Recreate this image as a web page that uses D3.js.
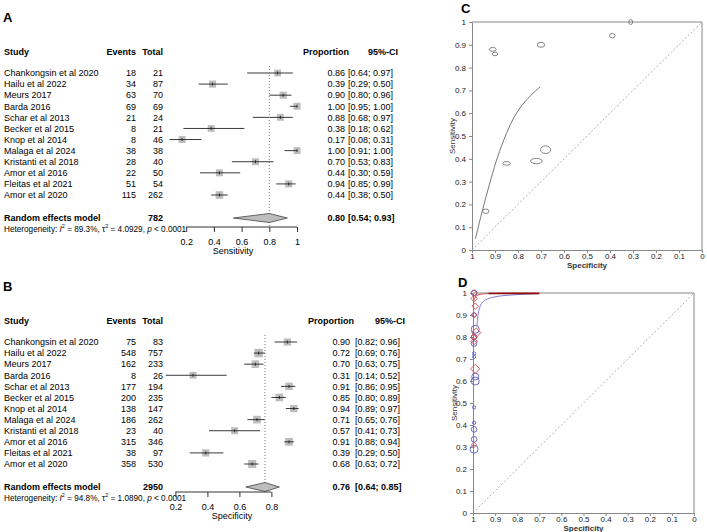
<!DOCTYPE html>
<html><head><meta charset="utf-8">
<script src="https://cdn.jsdelivr.net/npm/d3@7"></script>
<style>
body{margin:0;background:#fff}
svg{font-family:"Liberation Sans",Arial,sans-serif}
</style></head><body>
<svg id="fig" width="707" height="532"></svg>
<script>
var studies = ["Chankongsin et al 2020","Hailu et al 2022","Meurs 2017","Barda 2016","Schar et al 2013","Becker et al 2015","Knop et al 2014","Malaga et al 2024","Kristanti et al 2018","Amor et al 2016","Fleitas et al 2021","Amor et al 2020"]

// panel A, sensitivity
var sensEvents = [18,34,63,69,21,8,8,38,28,22,51,115]
var sensTotal  = [21,87,70,69,24,21,46,38,40,50,54,262]
var sensProp   = [0.86,0.39,0.90,1.00,0.88,0.38,0.17,1.00,0.70,0.44,0.94,0.44]
var sensLo     = [0.64,0.29,0.80,0.95,0.68,0.18,0.08,0.91,0.53,0.30,0.85,0.38]
var sensHi     = [0.97,0.50,0.96,1.00,0.97,0.62,0.31,1.00,0.83,0.59,0.99,0.50]
var sensPooled = [0.80,0.54,0.93]
var sensSum = 782
var sensHet = ["89.3%","4.0929","0.0001"]

// panel B, specificity
var specEvents = [75,548,162,8,177,200,138,186,23,315,38,358]
var specTotal  = [83,757,233,26,194,235,147,262,40,346,97,530]
var specProp   = [0.90,0.72,0.70,0.31,0.91,0.85,0.94,0.71,0.57,0.91,0.39,0.68]
var specLo     = [0.82,0.69,0.63,0.14,0.86,0.80,0.89,0.65,0.41,0.88,0.29,0.63]
var specHi     = [0.96,0.76,0.75,0.52,0.95,0.89,0.97,0.76,0.73,0.94,0.50,0.72]
var specPooled = [0.76,0.64,0.85]
var specSum = 2950
var specHet = ["94.8%","1.0890","0.0001"]

var forestTicksA = [0.2,0.4,0.6,0.8,1]
var forestTicksB = [0.2,0.4,0.6,0.8]

// panel C, studies shown in SROC space
var cStudies = ["Chankongsin et al 2020","Hailu et al 2022","Meurs 2017","Barda 2016","Schar et al 2013","Becker et al 2015","Knop et al 2014","Fleitas et al 2021","Amor et al 2020"]
var cCurveSpec = [0.985,0.955,0.925,0.896,0.865,0.835,0.80,0.75,0.704]
var cCurveSens = [0.05,0.175,0.285,0.39,0.475,0.55,0.615,0.675,0.715]

// panel D
var dBlueSpec = [0.995,0.995,0.99,0.995,0.995,0.995,0.995,0.99,0.99,0.995,0.995,0.995,0.995,0.995]
var dBlueSens = [1.00,0.90,0.835,0.80,0.77,0.725,0.71,0.62,0.60,0.48,0.41,0.38,0.335,0.29]
var dBlueN    = [60,40,120,60,60,20,20,90,120,20,20,60,60,120]
var dRedSpec  = [0.995,0.995,0.99,0.995,0.985,0.995,0.995,0.99,0.995]
var dRedSens  = [1.00,0.975,0.94,0.90,0.82,0.80,0.78,0.655,0.31]
var dRedN     = [60,60,60,40,120,60,60,120,40]
var dBlueCurveSpec = [0.982,0.978,0.972,0.962,0.945,0.91,0.86,0.78,0.70]
var dBlueCurveSens = [0.85,0.90,0.93,0.955,0.97,0.982,0.989,0.994,0.997]
var dRedCurveSpec  = [0.997,0.99,0.975,0.95,0.91,0.85,0.78,0.70]
var dRedCurveSens  = [0.965,0.985,0.993,0.997,0.999,1,1,1]

var rocTicks = d3.range(0, 11).map(d => d / 10)

var svg = d3.select('#fig')

function panelLabel(t, x, y){
  svg.append('text').text(t)
    .attr('x', x).attr('y', y)
    .attr('font-size', 13).attr('font-weight', 'bold')
}

function drawForest(o){
  var g = svg.append('g')
  var y = d3.scalePoint().domain(studies).range(o.rows)
  var x = d3.scaleLinear().domain([0, 1]).range(o.xr)
  var sz = d3.scaleSqrt().domain([0, 800]).range([6.5, 8.5])
  var fs = 9

  var hdr = g.append('g').attr('font-weight', 'bold').attr('font-size', fs)
  hdr.append('text').text('Study').attr('x', 4).attr('y', o.head)
  hdr.append('text').text('Events').attr('x', 136).attr('y', o.head).attr('text-anchor', 'end')
  hdr.append('text').text('Total').attr('x', 163).attr('y', o.head).attr('text-anchor', 'end')
  hdr.append('text').text('Proportion').attr('x', o.propX + 4).attr('y', o.head).attr('text-anchor', 'end')
  hdr.append('text').text('95%-CI').attr('x', o.ciX + 50).attr('y', o.head).attr('text-anchor', 'end')

  var rows = g.selectAll('g.row').data(studies).join('g').attr('font-size', fs)
  rows.append('text').text(d => d).attr('x', 4).attr('y', d => y(d) + 3.3)
  rows.append('text').text((d, i) => o.ev[i]).attr('x', 136).attr('y', d => y(d) + 3.3).attr('text-anchor', 'end')
  rows.append('text').text((d, i) => o.tot[i]).attr('x', 163).attr('y', d => y(d) + 3.3).attr('text-anchor', 'end')
  rows.append('text').text((d, i) => o.p[i].toFixed(2)).attr('x', o.propX).attr('y', d => y(d) + 3.3).attr('text-anchor', 'end')
  rows.append('text').text((d, i) => '[' + o.lo[i].toFixed(2) + '; ' + o.hi[i].toFixed(2) + ']')
    .attr('x', o.ciX).attr('y', d => y(d) + 3.3)

  // dotted line at pooled estimate
  g.append('line')
    .attr('x1', x(o.pooled[0])).attr('x2', x(o.pooled[0]))
    .attr('y1', o.rows[0] - 7).attr('y2', o.axisY)
    .attr('stroke', '#777').attr('stroke-dasharray', '1,2')

  rows.append('rect')
    .attr('x', (d, i) => x(o.p[i]) - sz(o.tot[i]) / 2)
    .attr('y', (d, i) => y(d) - sz(o.tot[i]) / 2)
    .attr('width', (d, i) => sz(o.tot[i])).attr('height', (d, i) => sz(o.tot[i]))
    .attr('fill', '#bdbdbd')
  rows.append('line')
    .attr('x1', (d, i) => x(o.lo[i])).attr('x2', (d, i) => x(o.hi[i]))
    .attr('y1', d => y(d)).attr('y2', d => y(d))
    .attr('stroke', '#222').attr('stroke-width', 0.9)
  rows.append('line')
    .attr('x1', (d, i) => x(o.p[i])).attr('x2', (d, i) => x(o.p[i]))
    .attr('y1', d => y(d) - 1.5).attr('y2', d => y(d) + 1.5)
    .attr('stroke', '#222').attr('stroke-width', 0.9)

  // pooled row
  var pr = g.append('g').attr('font-size', fs).attr('font-weight', 'bold')
  pr.append('text').text('Random effects model').attr('x', 4).attr('y', o.poolY + 3.3)
  pr.append('text').text(o.sum).attr('x', 163).attr('y', o.poolY + 3.3).attr('text-anchor', 'end')
  pr.append('text').text(o.pooled[0].toFixed(2)).attr('x', o.propX).attr('y', o.poolY + 3.3).attr('text-anchor', 'end')
  pr.append('text').text('[' + o.pooled[1].toFixed(2) + '; ' + o.pooled[2].toFixed(2) + ']')
    .attr('x', o.ciX).attr('y', o.poolY + 3.3)
  var p = o.pooled
  g.append('path')
    .attr('d', 'M' + x(p[1]) + ',' + o.poolY + 'L' + x(p[0]) + ',' + (o.poolY - 4.5) +
      'L' + x(p[2]) + ',' + o.poolY + 'L' + x(p[0]) + ',' + (o.poolY + 4.5) + 'Z')
    .attr('fill', '#bdbdbd').attr('stroke', '#444').attr('stroke-width', 0.8)

  var het = g.append('text').attr('font-size', 8.2).attr('x', 4).attr('y', o.poolY + 13.5)
  het.append('tspan').text('Heterogeneity: ')
  het.append('tspan').text('I').attr('font-style', 'italic')
  het.append('tspan').text('2').attr('font-size', 5.5).attr('dy', -3.5)
  het.append('tspan').text(' = ' + o.het[0] + ', \u03c4').attr('dy', 3.5)
  het.append('tspan').text('2').attr('font-size', 5.5).attr('dy', -3.5)
  het.append('tspan').text(' = ' + o.het[1] + ', ').attr('dy', 3.5)
  het.append('tspan').text('p').attr('font-style', 'italic')
  het.append('tspan').text(' < ' + o.het[2])

  var ax = g.append('g').attr('transform', 'translate(0,' + o.axisY + ')')
    .call(d3.axisBottom(x).tickValues(o.ticks).tickSize(5).tickSizeOuter(0)
      .tickFormat(d => d === 1 ? '1' : d.toFixed(1)))
  ax.select('.domain').attr('d', 'M' + x(o.ticks[0]) + ',0H' + x(o.ticks[o.ticks.length - 1]))
  ax.selectAll('text').attr('font-size', 9).attr('font-family', null).attr('dy', null).attr('y', 17.5)
  ax.selectAll('line,path').attr('stroke', '#333')
  g.append('text').text(o.title).attr('font-size', 9)
    .attr('x', o.titleX)
    .attr('y', o.axisY + 27).attr('text-anchor', 'middle')
}

panelLabel('A', 3, 22)
drawForest({rows: [73, 195], head: 55, xr: [158.5, 297], ev: sensEvents, tot: sensTotal, p: sensProp,
  lo: sensLo, hi: sensHi, pooled: sensPooled, sum: sensSum, het: sensHet, poolY: 218, axisY: 227,
  ticks: forestTicksA, title: 'Sensitivity', titleX: 233, propX: 345, ciX: 348})

panelLabel('B', 3, 291)
drawForest({rows: [342, 464], head: 324, xr: [143.4, 303.4], ev: specEvents, tot: specTotal, p: specProp,
  lo: specLo, hi: specHi, pooled: specPooled, sum: specSum, het: specHet, poolY: 487, axisY: 492,
  ticks: forestTicksB, title: 'Specificity', titleX: 232, propX: 350, ciX: 355})

function drawRoc(o){
  var g = svg.append('g')
  var x = d3.scaleLinear().domain([1, 0]).range(o.xr)
  var y = d3.scaleLinear().domain([0, 1]).range(o.yr)
  var fmt = d => d === 0 ? '0' : d === 1 ? '1' : d.toFixed(1)

  g.append('g').attr('transform', 'translate(' + o.xr[0] + ',0)')
    .call(d3.axisLeft(y).tickValues(rocTicks).tickSize(3).tickSizeOuter(0).tickFormat(fmt))
  var xa = g.append('g').attr('transform', 'translate(0,' + o.yr[0] + ')')
    .call(d3.axisBottom(x).tickValues(rocTicks).tickSize(3).tickSizeOuter(0).tickFormat(fmt))
  xa.selectAll('.tick text').attr('dy', null).attr('y', 9)
  g.selectAll('.tick text').attr('font-size', 8).attr('font-family', null).attr('fill', '#222')
  g.selectAll('.domain, .tick line').attr('stroke', '#888')
  g.append('path')
    .attr('d', 'M' + o.xr[0] + ',' + o.yr[1] + 'H' + o.xr[1] + 'V' + o.yr[0])
    .attr('fill', 'none').attr('stroke', '#888')

  g.append('line')
    .attr('x1', x(1)).attr('y1', y(0)).attr('x2', x(0)).attr('y2', y(1))
    .attr('stroke', '#999').attr('stroke-dasharray', '2,2').attr('stroke-width', 0.8)

  g.append('text').text('Specificity').attr('font-size', 8).attr('font-weight', 'bold').attr('fill', '#333')
    .attr('x', (o.xr[0] + o.xr[1]) / 2).attr('y', o.yr[0] + 17.5).attr('text-anchor', 'middle')
  g.append('text').text('Sensitivity').attr('font-size', 8).attr('fill', '#333')
    .attr('transform', 'translate(' + o.labX + ',' + (o.yr[0] + o.yr[1]) / 2 + ') rotate(-90)')
    .attr('text-anchor', 'middle')
  return {g, x, y}
}

panelLabel('C', 461, 13)
var C = drawRoc({xr: [472, 702], yr: [250, 22], labX: 455})
var rad = d3.scaleSqrt().domain([0, 800]).range([1, 6])
var line = d3.line().curve(d3.curveBasis)
C.g.append('path')
  .attr('d', line(cCurveSpec.map((d, i) => [C.x(d), C.y(cCurveSens[i])])))
  .attr('fill', 'none').attr('stroke', '#777').attr('stroke-width', 1)
C.g.selectAll('ellipse').data(cStudies).join('ellipse')
  .attr('cx', d => C.x(specProp[studies.indexOf(d)]))
  .attr('cy', d => C.y(sensProp[studies.indexOf(d)]))
  .attr('rx', d => rad(specTotal[studies.indexOf(d)]))
  .attr('ry', d => rad(sensTotal[studies.indexOf(d)]))
  .attr('fill', 'none').attr('stroke', '#777').attr('stroke-width', 0.9)

panelLabel('D', 458, 287)
var D = drawRoc({xr: [473, 694], yr: [513, 293], labX: 457})
var blue = '#5b5bbf', red = '#d24a4a'
D.g.append('path')
  .attr('d', line(dBlueCurveSpec.map((d, i) => [D.x(d), D.y(dBlueCurveSens[i])])))
  .attr('fill', 'none').attr('stroke', '#7c7cd4').attr('stroke-width', 1)
D.g.append('path')
  .attr('d', line(dRedCurveSpec.map((d, i) => [D.x(d), D.y(dRedCurveSens[i])])))
  .attr('fill', 'none').attr('stroke', red).attr('stroke-width', 1)
D.g.append('line')
  .attr('x1', D.x(0.93)).attr('x2', D.x(0.70)).attr('y1', D.y(1) + 0.5).attr('y2', D.y(1) + 0.5)
  .attr('stroke', '#8a1010').attr('stroke-width', 1.6)

var mr = d3.scaleSqrt().domain([0, 120]).range([0, 4])
D.g.selectAll('circle.b').data(dBlueSens).join('circle').attr('class', 'b')
  .attr('cx', (d, i) => D.x(dBlueSpec[i])).attr('cy', d => D.y(d))
  .attr('r', (d, i) => mr(dBlueN[i]))
  .attr('fill', 'none').attr('stroke', blue).attr('stroke-width', 0.9)
D.g.selectAll('path.r').data(dRedSens).join('path').attr('class', 'r')
  .attr('transform', (d, i) => 'translate(' + D.x(dRedSpec[i]) + ',' + D.y(d) + ')')
  .attr('d', (d, i) => { var s = mr(dRedN[i]) * 1.15; return 'M0,' + -s + 'L' + s + ',0L0,' + s + 'L' + -s + ',0Z' })
  .attr('fill', 'none').attr('stroke', red).attr('stroke-width', 0.9)
</script>
</body></html>
